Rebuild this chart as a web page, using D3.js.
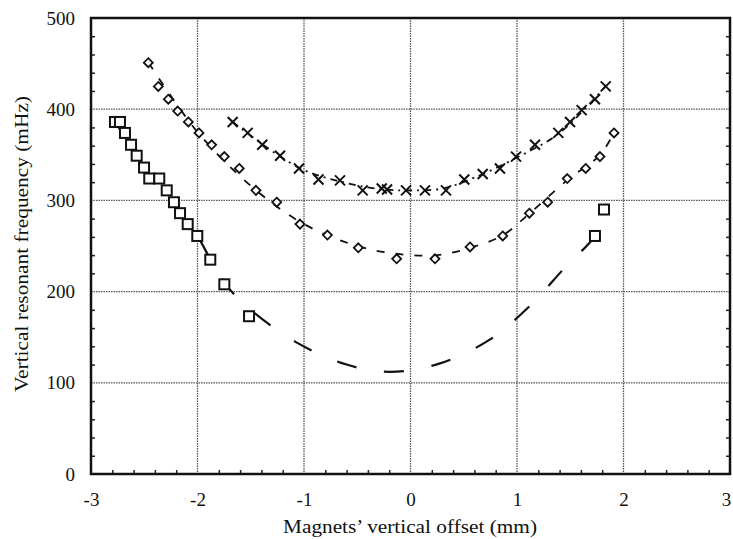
<!DOCTYPE html>
<html>
<head>
<meta charset="utf-8">
<script src="https://d3js.org/d3.v7.min.js"></script>
<style>
  body { margin: 0; background: #fff; }
</style>
</head>
<body>
<div id="chart"></div>
<script>
// squares series
var sqX = [-2.775, -2.728, -2.681, -2.624, -2.571, -2.502, -2.453, -2.359, -2.289, -2.221, -2.164, -2.092, -2.002, -1.880, -1.748, -1.516, 1.732, 1.817];
var sqY = [386, 386, 374, 361, 349, 336, 324, 324, 311, 298, 286, 274, 261, 235, 208, 173, 261, 290];
// fitted curve under the squares
var sqFitX = [-2.78, -2.5, -2.2, -2.0, -1.75, -1.5, -1.05, -0.6, -0.2, 0.27, 0.74, 1.1, 1.47, 1.73, 1.82];
var sqFitY = [388, 336, 296, 261, 210, 180, 143, 120, 112, 121, 147, 182, 229, 261, 290];

// diamonds series
var dmX = [-2.462, -2.368, -2.274, -2.186, -2.086, -1.986, -1.867, -1.748, -1.608, -1.451, -1.256, -1.038, -0.780, -0.490, -0.130, 0.230, 0.559, 0.866, 1.116, 1.288, 1.472, 1.645, 1.779, 1.911];
var dmY = [451, 425, 411, 398, 386, 374, 361, 348, 335, 311, 298, 274, 262, 248, 236, 236, 249, 261, 286, 298, 324, 335, 348, 374];
var dmFitX = [-2.46, -2.0, -1.5, -1.0, -0.5, -0.1, 0.25, 0.56, 0.87, 1.12, 1.47, 1.78, 1.91];
var dmFitY = [451, 375, 316, 274, 250, 241, 240, 248, 262, 286, 322, 350, 374];

// crosses series
var crX = [-1.670, -1.529, -1.392, -1.225, -1.047, -0.864, -0.662, -0.449, -0.270, -0.220, -0.042, 0.136, 0.333, 0.505, 0.678, 0.840, 0.991, 1.169, 1.388, 1.498, 1.607, 1.732, 1.833];
var crY = [386, 374, 361, 349, 335, 323, 322, 311, 313, 312, 311, 311, 311, 323, 329, 335, 348, 361, 374, 386, 399, 411, 425];
var crFitX = [-1.67, -1.05, -0.6, -0.25, 0.0, 0.3, 0.6, 1.0, 1.4, 1.83];
var crFitY = [386, 336, 319, 312, 311, 313, 325, 347, 374, 425];

var xTicks = [-3, -2, -1, 0, 1, 2, 3];
var yTicks = [0, 100, 200, 300, 400, 500];

var FONT = "'Liberation Serif', 'Times New Roman', Times, serif";
var W = 733, H = 539;
var margin = {top: 18, right: 3, bottom: 65, left: 91};
var width = W - margin.left - margin.right,
    height = H - margin.top - margin.bottom;

var svg = d3.select("#chart").append("svg")
    .attr("width", W).attr("height", H);
var g = svg.append("g")
    .attr("transform", "translate(" + margin.left + "," + margin.top + ")");

var x = d3.scaleLinear().domain([-3, 3]).range([0, width]);
var y = d3.scaleLinear().domain([0, 500]).range([height, 0]);

// grid
g.append("g").selectAll("line")
  .data([-2, -1, 0, 1, 2]).enter().append("line")
    .attr("x1", d => x(d)).attr("x2", d => x(d))
    .attr("y1", 0).attr("y2", height)
    .attr("stroke", "#555").attr("stroke-width", 1.3)
    .attr("stroke-dasharray", "1.5,1");
g.append("g").selectAll("line")
  .data([100, 200, 300, 400]).enter().append("line")
    .attr("y1", d => y(d)).attr("y2", d => y(d))
    .attr("x1", 0).attr("x2", width)
    .attr("stroke", "#555").attr("stroke-width", 1.3)
    .attr("stroke-dasharray", "1.5,1");

// minor ticks, inside
var yMinor = d3.range(20, 500, 20).filter(d => d % 100 !== 0);
g.append("g").call(d3.axisLeft(y).tickValues(yMinor).tickSize(-4).tickFormat(""))
  .call(a => a.select(".domain").remove());
g.append("g").attr("transform", "translate(" + width + ",0)")
  .call(d3.axisRight(y).tickValues(yMinor).tickSize(-4).tickFormat(""))
  .call(a => a.select(".domain").remove());
var xMinor = d3.range(-2.8, 3, 0.2).filter(d => Math.abs(d - Math.round(d)) > 0.01);
g.append("g").attr("transform", "translate(0," + height + ")")
  .call(d3.axisBottom(x).tickValues(xMinor).tickSize(-4).tickFormat(""))
  .call(a => a.select(".domain").remove());
g.selectAll(".tick line").attr("stroke", "#222").attr("stroke-width", 1.5);

// tick labels (plain hyphen for minus, as in the original)
var xAxis = g.append("g").attr("transform", "translate(0," + height + ")")
  .call(d3.axisBottom(x).tickValues(xTicks).tickSize(0).tickPadding(19).tickFormat(d => String(d)));
xAxis.select(".domain").remove();
xAxis.attr("font-family", FONT).attr("font-size", 19);
xAxis.selectAll("text").attr("fill", "#111")
  .attr("dx", d => d === 3 ? -4 : 0);
var yAxis = g.append("g")
  .call(d3.axisLeft(y).tickValues(yTicks).tickSize(0).tickPadding(16).tickFormat(d => String(d)));
yAxis.select(".domain").remove();
yAxis.attr("font-family", FONT).attr("font-size", 19);
yAxis.selectAll("text").attr("fill", "#111");

// fitted curves
var line = d3.line().x(d => x(d[0])).y(d => y(d[1])).curve(d3.curveCatmullRom);
function fit(xs, ys, dash, w) {
  g.append("path")
    .datum(xs.map((v, i) => [v, ys[i]]))
    .attr("d", line)
    .attr("fill", "none").attr("stroke", "#111")
    .attr("stroke-width", w)
    .attr("stroke-dasharray", dash);
}
fit(sqFitX, sqFitY, "20,28", 2.2);
fit(dmFitX, dmFitY, "8,11", 1.8);
fit(crFitX, crFitY, "7,5,2,5", 1.8);

// markers
var sq = g.append("g");
sq.selectAll("rect").data(sqX.map((v, i) => [v, sqY[i]])).enter().append("rect")
  .attr("x", d => x(d[0]) - 5).attr("y", d => y(d[1]) - 5)
  .attr("width", 10).attr("height", 10)
  .attr("fill", "#fff").attr("stroke", "#111").attr("stroke-width", 2);

var dm = g.append("g");
dm.selectAll("path").data(dmX.map((v, i) => [v, dmY[i]])).enter().append("path")
  .attr("transform", d => "translate(" + x(d[0]) + "," + y(d[1]) + ")")
  .attr("d", "M0,-4.5L4.5,0L0,4.5L-4.5,0Z")
  .attr("fill", "#fff").attr("stroke", "#111").attr("stroke-width", 1.8);

var cr = g.append("g");
cr.selectAll("path").data(crX.map((v, i) => [v, crY[i]])).enter().append("path")
  .attr("transform", d => "translate(" + x(d[0]) + "," + y(d[1]) + ")")
  .attr("d", "M-5,-5L5,5M-5,5L5,-5")
  .attr("fill", "none").attr("stroke", "#111").attr("stroke-width", 2);

// frame
g.append("rect")
  .attr("x", 0).attr("y", 0).attr("width", width).attr("height", height)
  .attr("fill", "none").attr("stroke", "#111").attr("stroke-width", 2.5);

// axis titles
svg.append("text")
  .attr("x", 410).attr("y", 533)
  .attr("text-anchor", "middle")
  .attr("font-family", FONT).attr("font-size", 19).attr("fill", "#111")
  .attr("textLength", 254).attr("lengthAdjust", "spacingAndGlyphs")
  .text("Magnets\u2019 vertical offset (mm)");
svg.append("text")
  .attr("transform", "translate(28,244) rotate(-90)")
  .attr("text-anchor", "middle")
  .attr("font-family", FONT).attr("font-size", 19).attr("fill", "#111")
  .attr("textLength", 296).attr("lengthAdjust", "spacingAndGlyphs")
  .text("Vertical resonant frequency (mHz)");
</script>
</body>
</html>
